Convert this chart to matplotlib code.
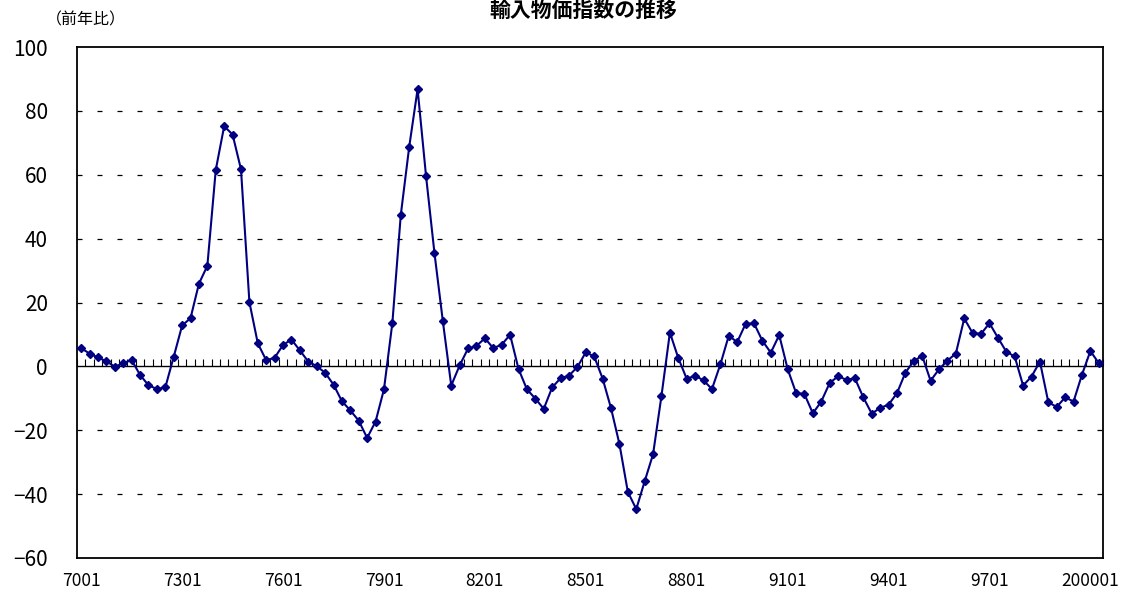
import numpy as np
import matplotlib
matplotlib.use('Agg')
import matplotlib.pyplot as plt

plt.rcParams['font.family'] = ['Noto Sans CJK JP', 'DejaVu Sans']

# quarterly data 1970Q1 - 2000Q2 (前年比, %)
values = [
    5.7, 4.0, 2.8, 1.6, -0.1, 1.0, 2.0, -2.7, -5.9, -7.1,
    -6.6, 3.0, 12.8, 15.1, 25.9, 31.5, 61.5, 75.2, 72.6, 61.7,
    20.1, 7.2, 1.9, 2.7, 6.7, 8.4, 5.0, 1.5, 0.1, -2.0,
    -5.7, -10.9, -13.8, -17.0, -22.4, -17.3, -7.2, 13.6, 47.4, 68.7,
    86.8, 59.7, 35.6, 14.2, -6.0, 0.3, 5.6, 6.4, 8.8, 5.7,
    6.8, 9.9, -0.8, -7.2, -10.1, -13.3, -6.6, -3.7, -2.9, -0.2,
    4.4, 3.1, -3.8, -13.1, -24.3, -39.3, -44.7, -36.0, -27.5, -9.2,
    10.6, 2.6, -3.9, -2.9, -4.4, -7.1, 0.6, 9.6, 7.6, 13.3,
    13.5, 8.0, 4.3, 9.8, -0.8, -8.3, -8.7, -14.7, -11.0, -5.2,
    -3.1, -4.2, -3.75, -9.7, -14.8, -13.0, -12.0, -8.4, -2.0, 1.7,
    3.3, -4.5, -0.9, 1.8, 4.0, 15.0, 10.4, 10.2, 13.5, 9.0,
    4.6, 3.1, -6.0, -3.2, 1.5, -11.25, -12.7, -9.7, -11.0, -2.6,
    4.8, 1.0,
]
periods = []
for yr in range(1970, 2001):
    for q in range(1, 5):
        if yr < 2000:
            periods.append('%02d%02d' % (yr - 1900, q))
        else:
            periods.append('%d%02d' % (yr, q))
periods = periods[:len(values)]

title = u'輸入物価指数の推移'
unit_label = u'（前年比）'
yticks = [-60, -40, -20, 0, 20, 40, 60, 80, 100]
label_step = 12

# -----------------------------------------------------------------------------
fig = plt.figure(figsize=(11.27, 5.98), dpi=100)
ax = fig.add_axes([77 / 1127, 1 - 558 / 598, (1103 - 77) / 1127, (558 - 47) / 598])

x = np.arange(len(values))
ax.plot(x, values, color='#000080', lw=1.5, marker='D', ms=4.2,
        mec='#000080', mfc='#000080', zorder=5)

ymin, ymax = -60, 100
ax.set_ylim(ymin, ymax)
ax.set_xlim(-0.5, len(values) - 0.5)

for g in yticks:
    if g in (0, ymin, ymax):
        continue
    ax.axhline(g, color='black', lw=0.9, dashes=(4.0, 12.0), zorder=1)
ax.axhline(0, color='black', lw=1.0, zorder=2)

# category ticks on the zero line
zero_pos = (0 - ymin) / float(ymax - ymin)
sec = ax.secondary_xaxis(zero_pos)
sec.set_xticks(np.arange(-0.5, len(values), 1.0))
sec.tick_params(axis='x', direction='in', length=5, width=0.8, labelbottom=False, labeltop=False)
sec.spines['bottom'].set_visible(False)
sec.spines['top'].set_visible(False)

ax.set_yticks(yticks)
ax.set_yticklabels([str(v).replace('-', u'\u2212') for v in yticks], fontsize=15)
ax.tick_params(axis='y', length=0, pad=21)

lab_idx = list(range(0, len(values), label_step))
ax.set_xticks(lab_idx)
ax.set_xticklabels([periods[i] for i in lab_idx], fontsize=12.5)
ax.tick_params(axis='x', length=0, pad=10)

for s in ax.spines.values():
    s.set_linewidth(1.3)
    s.set_color('black')

fig.text(0.518, 1 - 10 / 598, title, ha='center', va='center', fontsize=15, fontweight='bold')
fig.text(46 / 1127, 1 - 20 / 598, unit_label, ha='left', va='center', fontsize=11.5)

fig.savefig('out.png', dpi=100)
